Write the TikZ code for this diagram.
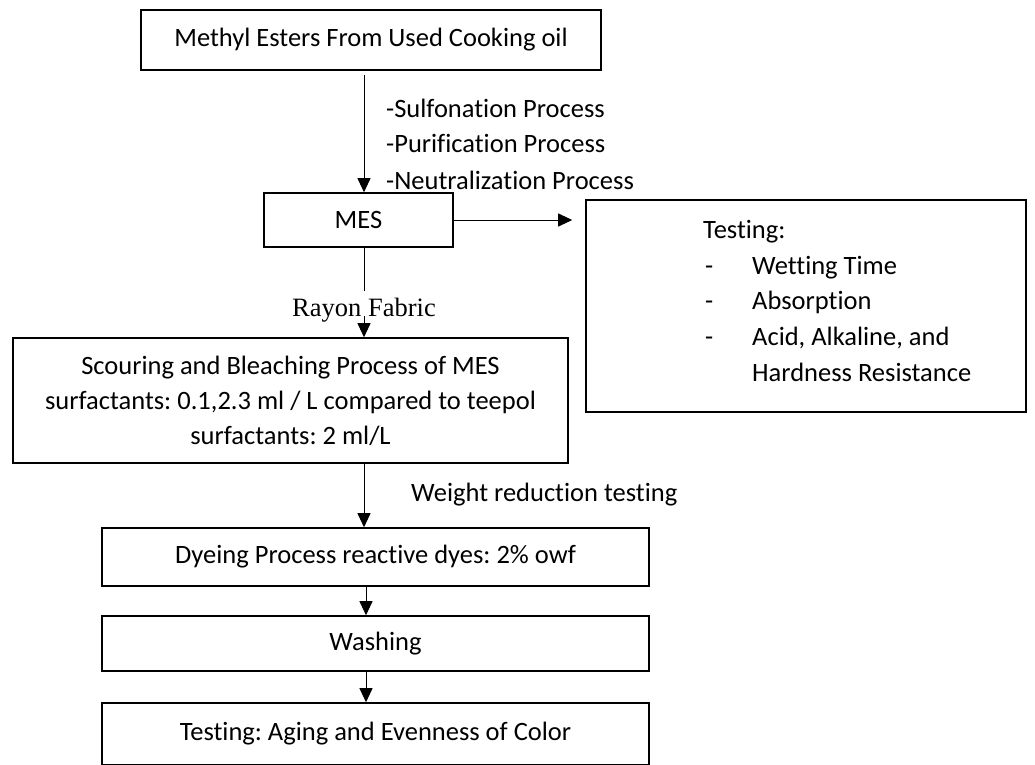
\documentclass[tikz,border=0pt]{standalone}
\usepackage{fontspec}
\setmainfont[Ligatures=NoCommon]{Carlito}
\newfontfamily\timesf{Liberation Serif}
\usetikzlibrary{arrows.meta}
\frenchspacing
\begin{document}
\begin{tikzpicture}[x=1pt,y=-1pt,
  box/.style={draw, line width=1.6pt, inner sep=0pt, align=center,
    font=\fontsize{26.5}{35}\selectfont},
  arr/.style={line width=0.9pt, -{Triangle[length=14pt,width=13pt]}},
  plain/.style={line width=0.9pt},
  lbl/.style={inner sep=0pt, anchor=base west, font=\fontsize{26.5}{30}\selectfont}
]
\useasboundingbox (0,0) rectangle (1035,764);
\clip (0,0) rectangle (1035,764);

% boxes
\node[box, minimum width=460pt, minimum height=60pt] (top) at (371,40) {Methyl Esters From Used Cooking oil};
\node[box, minimum width=189pt, minimum height=54pt] (mes) at (358.5,220) {MES};
\node[box, minimum width=440pt, minimum height=212pt] (test) at (806,306) {};
\node[box, minimum width=555pt, minimum height=125pt] (scour) at (290.5,400.5)
  {Scouring and Bleaching Process of MES\\surfactants: 0.1,2.3 ml / L compared to teepol\\surfactants: 2 ml/L};
\node[box, minimum width=547pt, minimum height=58pt] (dye) at (375.5,557) {Dyeing Process reactive dyes: 2\% owf};
\node[box, minimum width=547pt, minimum height=55pt] (wash) at (375.5,643.5) {Washing};
\node[box, minimum width=547pt, minimum height=62pt] (final) at (375.5,734) {Testing: Aging and Evenness of Color};

% testing box text
\node[lbl] (t0) at (703,238) {Testing:};
\node[lbl] (d1) at (705,274) {-};
\node[lbl] (i1) at (752,274) {Wetting Time};
\node[lbl] (d2) at (705,309) {-};
\node[lbl] (i2) at (752,309) {Absorption};
\node[lbl] (d3) at (705,345) {-};
\node[lbl] (i3) at (752,345) {Acid, Alkaline, and};
\node[lbl] (i4) at (752,381) {Hardness Resistance};

% process labels
\node[lbl] (p1) at (386,117) {-Sulfonation Process};
\node[lbl] (p2) at (386,152) {-Purification Process};
\node[lbl] (p3) at (386,189) {-Neutralization Process};
\node[lbl] (w1) at (411,501) {Weight reduction testing};

% Rayon Fabric
\node[inner sep=0pt, anchor=base, font=\timesf\fontsize{26.5}{30}\selectfont] (rf) at (364,316) {Rayon Fabric};

% connectors
\draw[arr] ([yshift=-4pt]top.south -| rf) -- (rf |- mes.north);
\draw[arr] (mes.east) -- ([xshift=-13pt]test.west |- mes.east);
\draw[plain] (rf |- mes.south) -- ([yshift=25pt]rf.base);
\draw[arr] (rf.base) -- (rf.base |- scour.north);
\draw[arr] (rf |- scour.south) -- (rf |- dye.north);
\draw[arr] ([xshift=2pt]rf |- dye.south) -- ([xshift=2pt]rf |- wash.north);
\draw[arr] ([xshift=2pt]rf |- wash.south) -- ([xshift=2pt]rf |- final.north);
\end{tikzpicture}
\end{document}
